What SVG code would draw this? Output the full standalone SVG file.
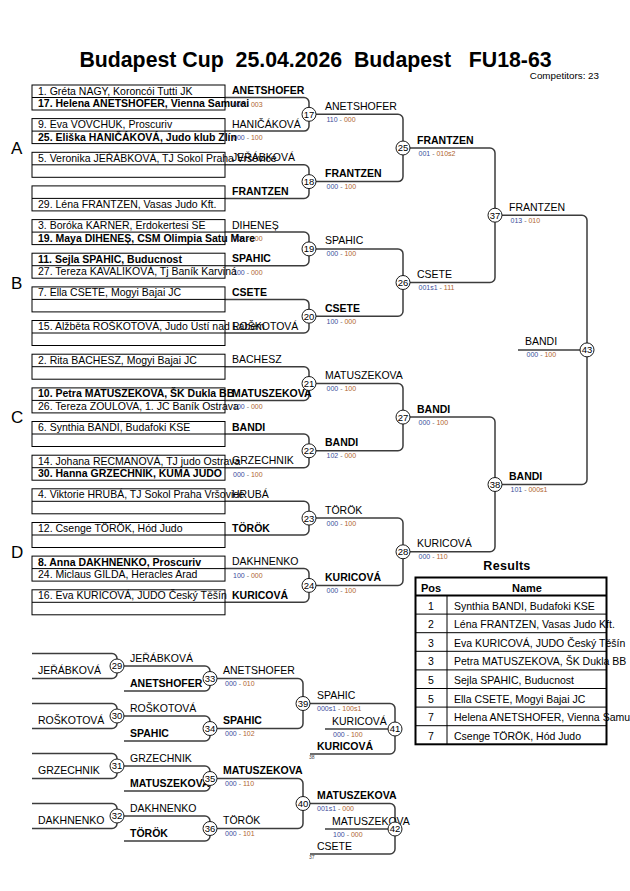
<svg xmlns="http://www.w3.org/2000/svg" width="630" height="891" viewBox="0 0 630 891">
<style>
text{font-family:"Liberation Sans",Arial,sans-serif;font-size:10.5px;fill:#000}
.b{font-weight:bold}
.sc{font-size:7px;fill:#777}
.sa{fill:#3b4c9b}
.sb{fill:#b0652f}
.box{fill:none;stroke:#000;stroke-width:1}
.ln{fill:none;stroke:#3c3c3c;stroke-width:1.5}
.cir{fill:#fff;stroke:#1a1a1a;stroke-width:1}
.num{font-size:9.5px;text-anchor:middle}
.pool{font-size:17px}
.tiny{font-size:5px;fill:#444}
.title{font-size:21.3px;font-weight:bold;text-anchor:middle;white-space:pre}
.tb{fill:none;stroke:#000;stroke-width:2}
.tl{stroke:#000;stroke-width:1}
</style>
<rect x="0" y="0" width="630" height="891" fill="#fff"/>

<g id="header">
<text class="title" x="315.5" y="67" xml:space="preserve">Budapest Cup  25.04.2026  Budapest   FU18-63</text>
<text x="599" y="79" style="font-size:9.8px;text-anchor:end">Competitors: 23</text>
<text class="pool" x="11" y="154">A</text>
<text class="pool" x="11" y="288.5">B</text>
<text class="pool" x="11" y="423">C</text>
<text class="pool" x="11" y="558">D</text>
</g>

<g id="connectors">
<path class="ln" d="M225 97.5H304A5 5 0 0 1 309 102.5V126.1A5 5 0 0 1 304 131.1H225"/>
<path class="ln" d="M225 164.8H304A5 5 0 0 1 309 169.8V193.4A5 5 0 0 1 304 198.4H225"/>
<path class="ln" d="M225 232.1H304A5 5 0 0 1 309 237.1V260.7A5 5 0 0 1 304 265.7H225"/>
<path class="ln" d="M225 299.4H304A5 5 0 0 1 309 304.4V328A5 5 0 0 1 304 333H225"/>
<path class="ln" d="M225 366.7H304A5 5 0 0 1 309 371.7V395.4A5 5 0 0 1 304 400.4H225"/>
<path class="ln" d="M225 434H304A5 5 0 0 1 309 439V462.7A5 5 0 0 1 304 467.7H225"/>
<path class="ln" d="M225 501.3H304A5 5 0 0 1 309 506.3V530A5 5 0 0 1 304 535H225"/>
<path class="ln" d="M225 568.6H304A5 5 0 0 1 309 573.6V597.3A5 5 0 0 1 304 602.3H225"/>
<path class="ln" d="M309 114.3H398A5 5 0 0 1 403 119.3V176.6A5 5 0 0 1 398 181.6H309"/>
<path class="ln" d="M309 248.9H398A5 5 0 0 1 403 253.9V311.2A5 5 0 0 1 398 316.2H309"/>
<path class="ln" d="M309 383.5H398A5 5 0 0 1 403 388.5V445.8A5 5 0 0 1 398 450.8H309"/>
<path class="ln" d="M309 518.1H398A5 5 0 0 1 403 523.1V580.4A5 5 0 0 1 398 585.4H309"/>
<path class="ln" d="M403 148H490A5 5 0 0 1 495 153V277.5A5 5 0 0 1 490 282.5H403"/>
<path class="ln" d="M403 417.1H490A5 5 0 0 1 495 422.1V546.8A5 5 0 0 1 490 551.8H403"/>
<path class="ln" d="M495 215.2H582A5 5 0 0 1 587 220.2V479.5A5 5 0 0 1 582 484.5H495"/>
<path class="ln" d="M518 349.9H587"/>
<path class="ln" d="M32 653.5H112A5 5 0 0 1 117 658.5V673.5A5 5 0 0 1 112 678.5H32"/>
<path class="ln" d="M32 703.5H112A5 5 0 0 1 117 708.5V723.5A5 5 0 0 1 112 728.5H32"/>
<path class="ln" d="M32 753.5H112A5 5 0 0 1 117 758.5V773.5A5 5 0 0 1 112 778.5H32"/>
<path class="ln" d="M32 803.5H112A5 5 0 0 1 117 808.5V823.5A5 5 0 0 1 112 828.5H32"/>
<path class="ln" d="M117 666H205A5 5 0 0 1 210 671V686A5 5 0 0 1 205 691H124"/>
<path class="ln" d="M117 716H205A5 5 0 0 1 210 721V736A5 5 0 0 1 205 741H124"/>
<path class="ln" d="M117 766H205A5 5 0 0 1 210 771V786A5 5 0 0 1 205 791H124"/>
<path class="ln" d="M117 816H205A5 5 0 0 1 210 821V836A5 5 0 0 1 205 841H124"/>
<path class="ln" d="M210 678.5H298A5 5 0 0 1 303 683.5V723.5A5 5 0 0 1 298 728.5H210"/>
<path class="ln" d="M210 778.5H298A5 5 0 0 1 303 783.5V823.5A5 5 0 0 1 298 828.5H210"/>
<path class="ln" d="M303 703.5H390A5 5 0 0 1 395 708.5V749A5 5 0 0 1 390 754H310"/>
<path class="ln" d="M325 729H395"/>
<path class="ln" d="M303 803.5H390A5 5 0 0 1 395 808.5V849A5 5 0 0 1 390 854H310"/>
<path class="ln" d="M325 829H395"/>
</g>

<g id="slot-1"><rect class="box" x="32" y="85" width="193" height="25"/><line class="box" x1="32" y1="97.5" x2="225" y2="97.5"/><text class="sc" x="233" y="106.5"><tspan class="sa">000</tspan> - <tspan class="sb">003</tspan></text><text x="38" y="94.5">1. Gréta NAGY, Koroncói Tutti JK</text><text class="b" x="38" y="107">17. Helena ANETSHOFER, Vienna Samurai</text><text class="b" x="232" y="94">ANETSHOFER</text></g>
<g id="slot-2"><rect class="box" x="32" y="118.6" width="193" height="25"/><line class="box" x1="32" y1="131.1" x2="225" y2="131.1"/><text class="sc" x="233" y="140.1"><tspan class="sa">000</tspan> - <tspan class="sb">100</tspan></text><text x="38" y="128.1">9. Eva VOVCHUK, Proscuriv</text><text class="b" x="38" y="140.6">25. Eliška HANIČÁKOVÁ, Judo klub Zlín</text><text x="232" y="127.6">HANIČÁKOVÁ</text></g>
<g id="slot-3"><rect class="box" x="32" y="152.3" width="193" height="25"/><line class="box" x1="32" y1="164.8" x2="225" y2="164.8"/><text x="38" y="161.8">5. Veronika JEŘÁBKOVÁ, TJ Sokol Praha Vršovice</text><text x="232" y="161.3">JEŘÁBKOVÁ</text></g>
<g id="slot-4"><rect class="box" x="32" y="185.9" width="193" height="25"/><line class="box" x1="32" y1="198.4" x2="225" y2="198.4"/><text x="38" y="207.9">29. Léna FRANTZEN, Vasas Judo Kft.</text><text class="b" x="232" y="194.9">FRANTZEN</text></g>
<g id="slot-5"><rect class="box" x="32" y="219.6" width="193" height="25"/><line class="box" x1="32" y1="232.1" x2="225" y2="232.1"/><text class="sc" x="233" y="241.1"><tspan class="sa">000</tspan> - <tspan class="sb">100</tspan></text><text x="38" y="229.1">3. Boróka KARNER, Erdokertesi SE</text><text class="b" x="38" y="241.6">19. Maya DIHENEȘ, CSM Olimpia Satu Mare</text><text x="232" y="228.6">DIHENEȘ</text></g>
<g id="slot-6"><rect class="box" x="32" y="253.2" width="193" height="25"/><line class="box" x1="32" y1="265.7" x2="225" y2="265.7"/><text class="sc" x="233" y="274.7"><tspan class="sa">100</tspan> - <tspan class="sb">000</tspan></text><text class="b" x="38" y="262.7">11. Sejla SPAHIC, Buducnost</text><text x="38" y="275.2">27. Tereza KAVALIKOVÁ, Tj Baník Karviná</text><text class="b" x="232" y="262.2">SPAHIC</text></g>
<g id="slot-7"><rect class="box" x="32" y="286.9" width="193" height="25"/><line class="box" x1="32" y1="299.4" x2="225" y2="299.4"/><text x="38" y="296.4">7. Ella CSETE, Mogyi Bajai JC</text><text class="b" x="232" y="295.9">CSETE</text></g>
<g id="slot-8"><rect class="box" x="32" y="320.5" width="193" height="25"/><line class="box" x1="32" y1="333" x2="225" y2="333"/><text x="38" y="330">15. Alžběta ROŠKOTOVÁ, Judo Ústí nad Labem</text><text x="232" y="329.5">ROŠKOTOVÁ</text></g>
<g id="slot-9"><rect class="box" x="32" y="354.2" width="193" height="25"/><line class="box" x1="32" y1="366.7" x2="225" y2="366.7"/><text x="38" y="363.7">2. Rita BACHESZ, Mogyi Bajai JC</text><text x="232" y="363.2">BACHESZ</text></g>
<g id="slot-10"><rect class="box" x="32" y="387.9" width="193" height="25"/><line class="box" x1="32" y1="400.4" x2="225" y2="400.4"/><text class="sc" x="233" y="409.4"><tspan class="sa">100</tspan> - <tspan class="sb">000</tspan></text><text class="b" x="38" y="397.4">10. Petra MATUSZEKOVA, ŠK Dukla BB</text><text x="38" y="409.9">26. Tereza ZOULOVA, 1. JC Baník Ostrava</text><text class="b" x="232" y="396.9">MATUSZEKOVA</text></g>
<g id="slot-11"><rect class="box" x="32" y="421.5" width="193" height="25"/><line class="box" x1="32" y1="434" x2="225" y2="434"/><text x="38" y="431">6. Synthia BANDI, Budafoki KSE</text><text class="b" x="232" y="430.5">BANDI</text></g>
<g id="slot-12"><rect class="box" x="32" y="455.2" width="193" height="25"/><line class="box" x1="32" y1="467.7" x2="225" y2="467.7"/><text class="sc" x="233" y="476.7"><tspan class="sa">000</tspan> - <tspan class="sb">100</tspan></text><text x="38" y="464.7">14. Johana RECMANOVÁ, TJ judo Ostrava</text><text class="b" x="38" y="477.2">30. Hanna GRZECHNIK, KUMA JUDO</text><text x="232" y="464.2">GRZECHNIK</text></g>
<g id="slot-13"><rect class="box" x="32" y="488.8" width="193" height="25"/><line class="box" x1="32" y1="501.3" x2="225" y2="501.3"/><text x="38" y="498.3">4. Viktorie HRUBÁ, TJ Sokol Praha Vršovice</text><text x="232" y="497.8">HRUBÁ</text></g>
<g id="slot-14"><rect class="box" x="32" y="522.5" width="193" height="25"/><line class="box" x1="32" y1="535" x2="225" y2="535"/><text x="38" y="532">12. Csenge TÖRÖK, Hód Judo</text><text class="b" x="232" y="531.5">TÖRÖK</text></g>
<g id="slot-15"><rect class="box" x="32" y="556.1" width="193" height="25"/><line class="box" x1="32" y1="568.6" x2="225" y2="568.6"/><text class="sc" x="233" y="577.6"><tspan class="sa">100</tspan> - <tspan class="sb">000</tspan></text><text class="b" x="38" y="565.6">8. Anna DAKHNENKO, Proscuriv</text><text x="38" y="578.1">24. Miclaus GILDA, Heracles Arad</text><text x="232" y="565.1">DAKHNENKO</text></g>
<g id="slot-16"><rect class="box" x="32" y="589.8" width="193" height="25"/><line class="box" x1="32" y1="602.3" x2="225" y2="602.3"/><text x="38" y="599.3">16. Eva KURICOVÁ, JUDO Český Těšín</text><text class="b" x="232" y="598.8">KURICOVÁ</text></g>

<g id="match-17"><circle class="cir" cx="309" cy="114.3" r="7"/><text class="num" x="309" y="117.7">17</text><text x="325" y="109.8">ANETSHOFER</text><text class="sc" x="326.5" y="121.8"><tspan class="sa">110</tspan> - <tspan class="sb">000</tspan></text></g>
<g id="match-18"><circle class="cir" cx="309" cy="181.6" r="7"/><text class="num" x="309" y="185">18</text><text class="b" x="325" y="177.1">FRANTZEN</text><text class="sc" x="326.5" y="189.1"><tspan class="sa">000</tspan> - <tspan class="sb">100</tspan></text></g>
<g id="match-19"><circle class="cir" cx="309" cy="248.9" r="7"/><text class="num" x="309" y="252.3">19</text><text x="325" y="244.4">SPAHIC</text><text class="sc" x="326.5" y="256.4"><tspan class="sa">000</tspan> - <tspan class="sb">100</tspan></text></g>
<g id="match-20"><circle class="cir" cx="309" cy="316.2" r="7"/><text class="num" x="309" y="319.6">20</text><text class="b" x="325" y="311.7">CSETE</text><text class="sc" x="326.5" y="323.7"><tspan class="sa">100</tspan> - <tspan class="sb">000</tspan></text></g>
<g id="match-21"><circle class="cir" cx="309" cy="383.5" r="7"/><text class="num" x="309" y="386.9">21</text><text x="325" y="379">MATUSZEKOVA</text><text class="sc" x="326.5" y="391"><tspan class="sa">000</tspan> - <tspan class="sb">100</tspan></text></g>
<g id="match-22"><circle class="cir" cx="309" cy="450.8" r="7"/><text class="num" x="309" y="454.2">22</text><text class="b" x="325" y="446.3">BANDI</text><text class="sc" x="326.5" y="458.3"><tspan class="sa">102</tspan> - <tspan class="sb">000</tspan></text></g>
<g id="match-23"><circle class="cir" cx="309" cy="518.1" r="7"/><text class="num" x="309" y="521.5">23</text><text x="325" y="513.6">TÖRÖK</text><text class="sc" x="326.5" y="525.6"><tspan class="sa">000</tspan> - <tspan class="sb">100</tspan></text></g>
<g id="match-24"><circle class="cir" cx="309" cy="585.4" r="7"/><text class="num" x="309" y="588.8">24</text><text class="b" x="325" y="580.9">KURICOVÁ</text><text class="sc" x="326.5" y="592.9"><tspan class="sa">000</tspan> - <tspan class="sb">100</tspan></text></g>
<g id="match-25"><circle class="cir" cx="403" cy="148" r="7"/><text class="num" x="403" y="151.4">25</text><text class="b" x="417" y="143.5">FRANTZEN</text><text class="sc" x="418.5" y="155.5"><tspan class="sa">001</tspan> - <tspan class="sb">010s2</tspan></text></g>
<g id="match-26"><circle class="cir" cx="403" cy="282.5" r="7"/><text class="num" x="403" y="285.9">26</text><text x="417" y="278">CSETE</text><text class="sc" x="418.5" y="290"><tspan class="sa">001s1</tspan> - <tspan class="sb">111</tspan></text></g>
<g id="match-27"><circle class="cir" cx="403" cy="417.1" r="7"/><text class="num" x="403" y="420.5">27</text><text class="b" x="417" y="412.6">BANDI</text><text class="sc" x="418.5" y="424.6"><tspan class="sa">000</tspan> - <tspan class="sb">100</tspan></text></g>
<g id="match-28"><circle class="cir" cx="403" cy="551.8" r="7"/><text class="num" x="403" y="555.2">28</text><text x="417" y="547.3">KURICOVÁ</text><text class="sc" x="418.5" y="559.3"><tspan class="sa">000</tspan> - <tspan class="sb">110</tspan></text></g>
<g id="match-37"><circle class="cir" cx="495" cy="215.2" r="7"/><text class="num" x="495" y="218.6">37</text><text x="509" y="210.7">FRANTZEN</text><text class="sc" x="510.5" y="222.7"><tspan class="sa">013</tspan> - <tspan class="sb">010</tspan></text></g>
<g id="match-38"><circle class="cir" cx="495" cy="484.5" r="7"/><text class="num" x="495" y="487.9">38</text><text class="b" x="509" y="480">BANDI</text><text class="sc" x="510.5" y="492"><tspan class="sa">101</tspan> - <tspan class="sb">000s1</tspan></text></g>
<g id="match-43"><circle class="cir" cx="587" cy="349.9" r="7"/><text class="num" x="587" y="353.3">43</text><text x="525" y="345.4">BANDI</text><text class="sc" x="526.5" y="357.4"><tspan class="sa">000</tspan> - <tspan class="sb">100</tspan></text></g>

<g id="results">
<text class="b" x="507" y="570" style="font-size:12.5px;text-anchor:middle;letter-spacing:0.3px">Results</text>
<line class="tl" x1="415.5" y1="614.1" x2="606.5" y2="614.1"/>
<line class="tl" x1="415.5" y1="632.7" x2="606.5" y2="632.7"/>
<line class="tl" x1="415.5" y1="651.3" x2="606.5" y2="651.3"/>
<line class="tl" x1="415.5" y1="669.9" x2="606.5" y2="669.9"/>
<line class="tl" x1="415.5" y1="688.5" x2="606.5" y2="688.5"/>
<line class="tl" x1="415.5" y1="707.1" x2="606.5" y2="707.1"/>
<line class="tl" x1="415.5" y1="725.7" x2="606.5" y2="725.7"/>
<line class="tl" x1="447" y1="595.5" x2="447" y2="744.3"/>
<line class="tb" x1="415.5" y1="595.5" x2="606.5" y2="595.5"/>
<rect class="tb" x="415.5" y="577.5" width="191" height="166.8"/>
<text class="b" x="431" y="591.5" style="font-size:11px;text-anchor:middle">Pos</text>
<text class="b" x="527" y="591.5" style="font-size:11px;text-anchor:middle">Name</text>
<g style="text-anchor:middle">
<text x="431" y="609.5">1</text><text x="431" y="628.1">2</text><text x="431" y="646.7">3</text><text x="431" y="665.3">3</text><text x="431" y="683.9">5</text><text x="431" y="702.5">5</text><text x="431" y="721.1">7</text><text x="431" y="739.7">7</text>
</g>
<text x="454" y="609.5">Synthia BANDI, Budafoki KSE</text>
<text x="454" y="628.1">Léna FRANTZEN, Vasas Judo Kft.</text>
<text x="454" y="646.7">Eva KURICOVÁ, JUDO Český Těšín</text>
<text x="454" y="665.3">Petra MATUSZEKOVA, ŠK Dukla BB</text>
<text x="454" y="683.9">Sejla SPAHIC, Buducnost</text>
<text x="454" y="702.5">Ella CSETE, Mogyi Bajai JC</text>
<text x="454" y="721.1">Helena ANETSHOFER, Vienna Samurai</text>
<text x="454" y="739.7">Csenge TÖRÖK, Hód Judo</text>
</g>

<g id="rep-29"><text x="38" y="674">JEŘÁBKOVÁ</text><circle class="cir" cx="117" cy="666" r="7"/><text class="num" x="117" y="669.4">29</text></g>
<g id="rep-30"><text x="38" y="724">ROŠKOTOVÁ</text><circle class="cir" cx="117" cy="716" r="7"/><text class="num" x="117" y="719.4">30</text></g>
<g id="rep-31"><text x="38" y="774">GRZECHNIK</text><circle class="cir" cx="117" cy="766" r="7"/><text class="num" x="117" y="769.4">31</text></g>
<g id="rep-32"><text x="38" y="824">DAKHNENKO</text><circle class="cir" cx="117" cy="816" r="7"/><text class="num" x="117" y="819.4">32</text></g>

<g id="rep-33"><text x="130" y="661.5">JEŘÁBKOVÁ</text><text class="b" x="130" y="686.5">ANETSHOFER</text><circle class="cir" cx="210" cy="678.5" r="7"/><text class="num" x="210" y="681.9">33</text><text x="223" y="674">ANETSHOFER</text><text class="sc" x="225" y="686"><tspan class="sa">000</tspan> - <tspan class="sb">010</tspan></text></g>
<g id="rep-34"><text x="130" y="711.5">ROŠKOTOVÁ</text><text class="b" x="130" y="736.5">SPAHIC</text><circle class="cir" cx="210" cy="728.5" r="7"/><text class="num" x="210" y="731.9">34</text><text class="b" x="223" y="724">SPAHIC</text><text class="sc" x="225" y="736"><tspan class="sa">000</tspan> - <tspan class="sb">102</tspan></text></g>
<g id="rep-35"><text x="130" y="761.5">GRZECHNIK</text><text class="b" x="130" y="786.5">MATUSZEKOVA</text><circle class="cir" cx="210" cy="778.5" r="7"/><text class="num" x="210" y="781.9">35</text><text class="b" x="223" y="774">MATUSZEKOVA</text><text class="sc" x="225" y="786"><tspan class="sa">000</tspan> - <tspan class="sb">110</tspan></text></g>
<g id="rep-36"><text x="130" y="811.5">DAKHNENKO</text><text class="b" x="130" y="836.5">TÖRÖK</text><circle class="cir" cx="210" cy="828.5" r="7"/><text class="num" x="210" y="831.9">36</text><text x="223" y="824">TÖRÖK</text><text class="sc" x="225" y="836"><tspan class="sa">000</tspan> - <tspan class="sb">101</tspan></text></g>

<g id="rep-39"><circle class="cir" cx="303" cy="703.5" r="7"/><text class="num" x="303" y="706.9">39</text><text x="317" y="699">SPAHIC</text><text class="sc" x="317" y="711"><tspan class="sa">000s1</tspan> - <tspan class="sb">100s1</tspan></text></g>
<g id="rep-40"><circle class="cir" cx="303" cy="803.5" r="7"/><text class="num" x="303" y="806.9">40</text><text class="b" x="317" y="799">MATUSZEKOVA</text><text class="sc" x="317" y="811"><tspan class="sa">001s1</tspan> - <tspan class="sb">000</tspan></text></g>

<g id="rep-41"><text x="332" y="724.5">KURICOVÁ</text><text class="sc" x="333" y="736.5"><tspan class="sa">000</tspan> - <tspan class="sb">100</tspan></text><text class="b" x="317" y="749.5">KURICOVÁ</text><text class="tiny" x="309" y="759">38</text><circle class="cir" cx="395" cy="729" r="7"/><text class="num" x="395" y="732.4">41</text></g>
<g id="rep-42"><text x="332" y="824.5">MATUSZEKOVA</text><text class="sc" x="333" y="836.5"><tspan class="sa">100</tspan> - <tspan class="sb">000</tspan></text><text x="317" y="849.5">CSETE</text><text class="tiny" x="309" y="859">37</text><circle class="cir" cx="395" cy="829" r="7"/><text class="num" x="395" y="832.4">42</text></g>
</svg>
